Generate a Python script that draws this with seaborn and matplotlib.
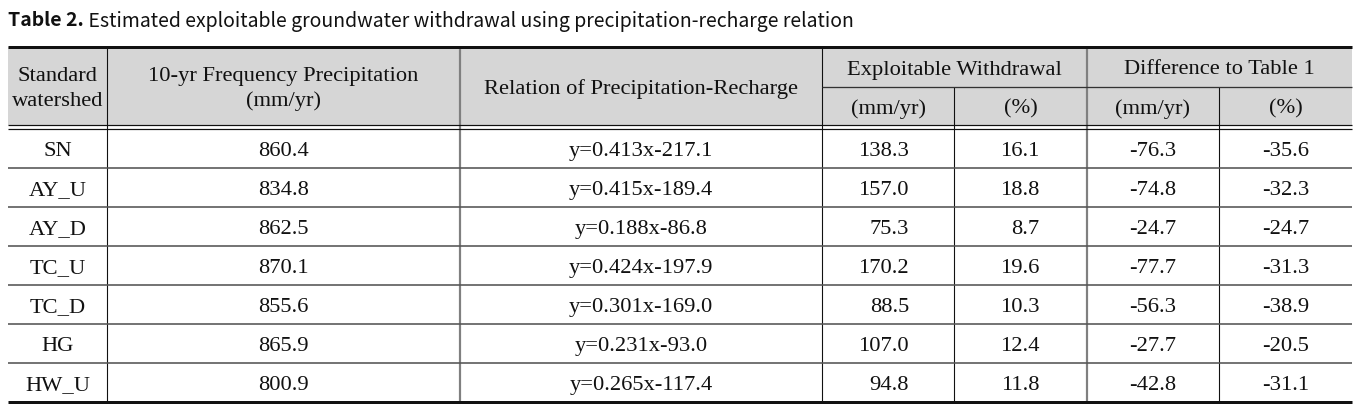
import matplotlib
matplotlib.use("Agg")
import matplotlib.pyplot as plt
from matplotlib.patches import Rectangle
import seaborn as sns

# ---------------- data ----------------
watersheds = ["SN", "AY_U", "AY_D", "TC_U", "TC_D", "HG", "HW_U"]
precip_10yr = [860.4, 834.8, 862.5, 870.1, 855.6, 865.9, 800.9]
slopes = [0.413, 0.415, 0.188, 0.424, 0.301, 0.231, 0.265]
intercepts = [217.1, 189.4, 86.8, 197.9, 169.0, 93.0, 117.4]
withdrawal_mm = [138.3, 157.0, 75.3, 170.2, 88.5, 107.0, 94.8]
withdrawal_pct = [16.1, 18.8, 8.7, 19.6, 10.3, 12.4, 11.8]
diff_mm = [-76.3, -74.8, -24.7, -77.7, -56.3, -27.7, -42.8]
diff_pct = [-35.6, -32.3, -24.7, -31.3, -38.9, -20.5, -31.1]

title_bold = "Table 2."
title_rest = " Estimated exploitable groundwater withdrawal using precipitation-recharge relation"
head_single = ["Standard\nwatershed", "10-yr Frequency Precipitation\n(mm/yr)",
               "Relation of Precipitation-Recharge"]
head_groups = ["Exploitable Withdrawal", "Difference to Table 1"]
head_units = ["(mm/yr)", "(%)", "(mm/yr)", "(%)"]

# ---------------- layout ----------------
sns.set_theme(style="white")
serif = ["Liberation Serif", "DejaVu Serif"]
sans = ["Noto Sans CJK KR", "DejaVu Sans"]

W, H = 1371, 406
fig = plt.figure(figsize=(W / 100, H / 100), dpi=100)
ax = fig.add_axes([0, 0, 1, 1])
ax.set_xlim(0, W)
ax.set_ylim(H, 0)
ax.axis("off")

xe = [8, 107, 460, 822, 954, 1087, 1219, 1352]
y_top, y_mid, y_hb1, y_hb2 = 48, 88, 126, 130
row_h = 39
n = len(watersheds)
y_rows = [y_hb2 + i * row_h for i in range(n + 1)]
y_bot = y_rows[-1]

px = 0.72  # points per pixel at dpi 100
FS = 16.2
TXT = "#111111"

# header background
ax.add_patch(Rectangle((xe[0], y_top), xe[-1] - xe[0], y_hb1 - y_top,
                       facecolor="#d6d6d6", edgecolor="none", zorder=0))

# horizontal lines
ax.hlines(y_top, xe[0], xe[-1], color="#111111", lw=3 * px, zorder=3)
ax.hlines(y_mid, xe[3], xe[-1], color="#333333", lw=1.3 * px, zorder=3)
ax.hlines([y_hb1, y_hb2], xe[0], xe[-1], color="#111111", lw=1.2 * px, zorder=3)
for y in y_rows[1:-1]:
    ax.hlines(y, xe[0], xe[-1], color="#555555", lw=1.6 * px, zorder=3)
ax.hlines(y_bot, xe[0], xe[-1], color="#111111", lw=3 * px, zorder=3)

# vertical lines
for i, x in enumerate(xe[1:-1], start=1):
    top = y_mid if i in (4, 6) else y_top
    if i in (2, 5):
        ax.vlines(x, top, y_bot, color="#808080", lw=2.2 * px, zorder=2)
    else:
        ax.vlines(x, top, y_bot, color="#111111", lw=1.1 * px, zorder=2)

def cx(i, j=None):
    j = i if j is None else j
    return (xe[i] + xe[j + 1]) / 2

# header text
for i, t in enumerate(head_single):
    ax.text(cx(i), (y_top + y_hb1) / 2 + 2, t, ha="center", va="center",
            fontsize=FS, family=serif, linespacing=1.4, color=TXT)
ax.text(cx(3, 4), (y_top + y_mid) / 2 + 2, head_groups[0], ha="center", va="center",
        fontsize=FS, family=serif, color=TXT)
ax.text(cx(5, 6), (y_top + y_mid) / 2 + 2, head_groups[1], ha="center", va="center",
        fontsize=FS, family=serif, color=TXT)
for k, t in enumerate(head_units):
    ax.text(cx(3 + k), (y_mid + y_hb1) / 2 + 2, t, ha="center", va="center",
            fontsize=FS, family=serif, color=TXT)

# body
for r in range(n):
    yc = (y_rows[r] + y_rows[r + 1]) / 2 + 2
    kw = dict(va="center", fontsize=FS, family=serif, color=TXT)
    ax.text(cx(0), yc, watersheds[r], ha="center", **kw)
    ax.text(cx(1), yc, f"{precip_10yr[r]:.1f}", ha="center", **kw)
    ax.text(cx(2), yc, f"y={slopes[r]:.3f}x-{intercepts[r]:.1f}", ha="center", **kw)
    ax.text(cx(3) + 21, yc, f"{withdrawal_mm[r]:.1f}", ha="right", **kw)
    ax.text(cx(4) + 19, yc, f"{withdrawal_pct[r]:.1f}", ha="right", **kw)
    ax.text(cx(5), yc, f"{diff_mm[r]:.1f}", ha="center", **kw)
    ax.text(cx(6), yc, f"{diff_pct[r]:.1f}", ha="center", **kw)

# title
t1 = ax.text(8, 21, title_bold, ha="left", va="center", fontsize=14,
             family=sans, fontweight="bold", color=TXT)
fig.canvas.draw()
bb = t1.get_window_extent(renderer=fig.canvas.get_renderer())
x_end = ax.transData.inverted().transform((bb.x1, bb.y0))[0]
ax.text(x_end, 21, title_rest, ha="left", va="center", fontsize=14,
        family=sans, color=TXT)

fig.savefig("out.png", dpi=100)
